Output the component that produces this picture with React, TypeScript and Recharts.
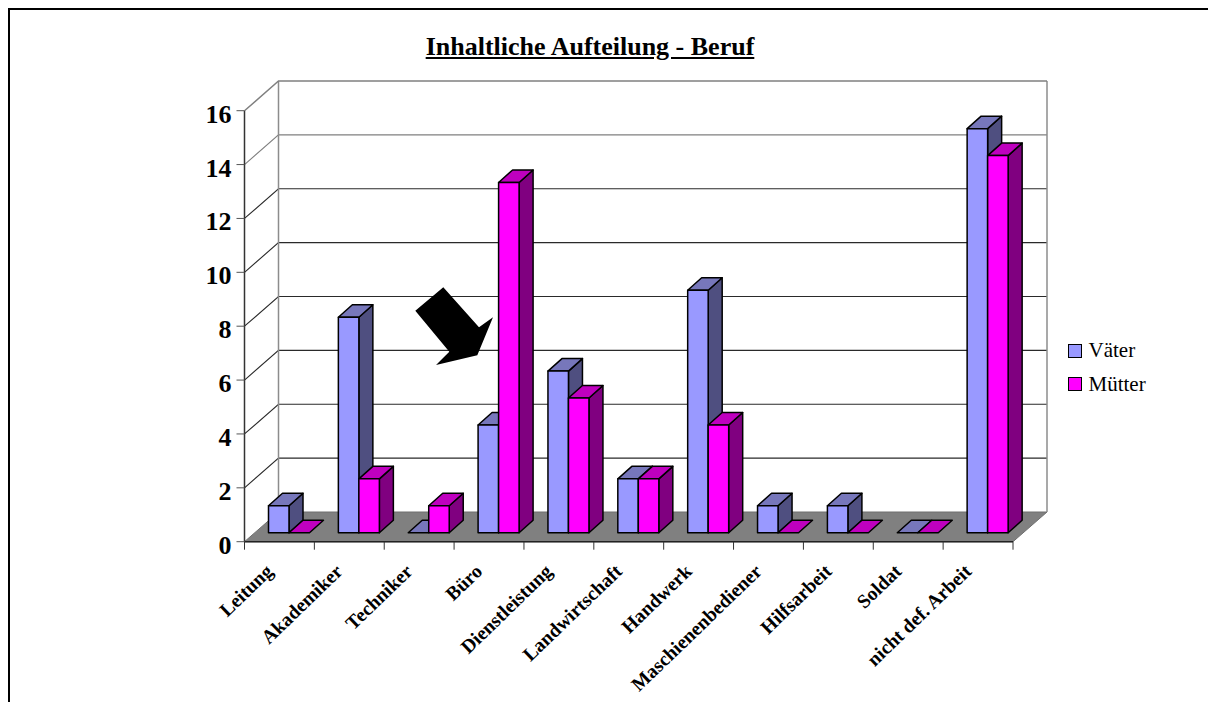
import { Bar, BarChart, CartesianGrid, Legend, XAxis, YAxis } from "recharts";

const categories = [
  "Leitung",
  "Akademiker",
  "Techniker",
  "Büro",
  "Dienstleistung",
  "Landwirtschaft",
  "Handwerk",
  "Maschienenbediener",
  "Hilfsarbeit",
  "Soldat",
  "nicht def. Arbeit",
];
const vaeter = [1, 8, 0, 4, 6, 2, 9, 1, 1, 0, 15];
const muetter = [0, 2, 1, 13, 5, 2, 4, 0, 0, 0, 14];
const yTicks = [0, 2, 4, 6, 8, 10, 12, 14, 16];

const data = categories.map((name, i) => ({ name, vaeter: vaeter[i], muetter: muetter[i] }));

const SERIF = '"Liberation Serif", "Times New Roman", serif';

// wall depth of the 3D box
const WALL_DX = 34;
const WALL_DY = -29.7;
// bars stand a little behind the front edge of the floor
const BAR_SHIFT_X = 10;
const BAR_SHIFT_Y = -9;
// depth of a single bar
const BAR_DX = 14;
const BAR_DY = -12.5;

const VAETER_COLORS = { front: "#9999ff", top: "#7777bb", side: "#4f4f80" };
const MUETTER_COLORS = { front: "#ff00ff", top: "#bf00bf", side: "#800080" };

function bar3d(colors: typeof VAETER_COLORS) {
  return function Bar3d(props: any) {
    const x = props.x + BAR_SHIFT_X;
    const y = props.y + BAR_SHIFT_Y;
    const w = props.width;
    const h = props.height;
    const edge = { stroke: "#000", strokeWidth: 1.5, strokeLinejoin: "round" as const };
    return (
      <g>
        {h > 0 && (
          <path
            d={`M${x + w},${y} L${x + w + BAR_DX},${y + BAR_DY} L${x + w + BAR_DX},${y + h + BAR_DY} L${x + w},${y + h} Z`}
            fill={colors.side}
            {...edge}
          />
        )}
        <path
          d={`M${x},${y} L${x + BAR_DX},${y + BAR_DY} L${x + w + BAR_DX},${y + BAR_DY} L${x + w},${y} Z`}
          fill={colors.top}
          {...edge}
        />
        {h > 0 && <rect x={x} y={y} width={w} height={h} fill={colors.front} {...edge} />}
      </g>
    );
  };
}

// one grid value: the slanted piece on the left wall and the line on the back wall
function wallLine(props: any) {
  const { x1, x2, y1, y, height, index } = props;
  const atFloor = y1 >= y + height - 0.5;
  const atTop = y1 <= y + 0.5;
  const color = y1 < y + 60 ? "#808080" : "#2a2a2a";
  return (
    <g key={`wall-${index}`}>
      {atTop && (
        <g stroke="#8c8c8c" strokeWidth={1.5}>
          <line x1={x1 + WALL_DX} y1={y1 + WALL_DY} x2={x1 + WALL_DX} y2={y1 + height + WALL_DY} />
          <line x1={x2 + WALL_DX} y1={y1 + WALL_DY} x2={x2 + WALL_DX} y2={y1 + height + WALL_DY} />
        </g>
      )}
      {atFloor ? (
        <polygon
          points={`${x1},${y1} ${x1 + WALL_DX},${y1 + WALL_DY} ${x2 + WALL_DX},${y1 + WALL_DY} ${x2},${y1}`}
          fill="#808080"
          stroke="#6e6e6e"
        />
      ) : (
        <path
          d={`M${x1},${y1} L${x1 + WALL_DX},${y1 + WALL_DY} L${x2 + WALL_DX},${y1 + WALL_DY}`}
          fill="none"
          stroke={color}
          strokeWidth={atTop ? 1.5 : 1.1}
        />
      )}
    </g>
  );
}

function CategoryTick(props: any) {
  const { x, y, payload, index } = props;
  const half = payload.offset ?? 0;
  const labelX = x - 5.5;
  const labelY = y + 23;
  return (
    <g>
      {index === 0 && <line x1={x - half} y1={y - 8} x2={x - half} y2={y} stroke="#333" />}
      <line x1={x + half} y1={y - 8} x2={x + half} y2={y} stroke="#333" />
      <text
        x={labelX}
        y={labelY}
        transform={`rotate(-44 ${labelX} ${labelY})`}
        textAnchor="end"
        fontFamily={SERIF}
        fontWeight="bold"
        fontSize={19.5}
        fill="#000"
      >
        {payload.value}
      </text>
    </g>
  );
}

function ValueTick(props: any) {
  const { x, y, payload } = props;
  return (
    <text x={x - 3} y={y + 12} textAnchor="end" fontFamily={SERIF} fontWeight="bold" fontSize={26} fill="#000">
      {payload.value}
    </text>
  );
}

function SwatchLegend() {
  const rows = [
    { label: "Väter", color: VAETER_COLORS.front },
    { label: "Mütter", color: MUETTER_COLORS.front },
  ];
  return (
    <div>
      {rows.map((r) => (
        <div key={r.label} style={{ display: "flex", alignItems: "center", height: 33.5 }}>
          <span
            style={{
              display: "inline-block",
              width: 12,
              height: 12,
              border: "1px solid #000",
              background: r.color,
              marginRight: 6.5,
            }}
          />
          <span style={{ fontFamily: SERIF, fontSize: 21, color: "#000" }}>{r.label}</span>
        </div>
      ))}
    </div>
  );
}

export default function App() {
  return (
    <div style={{ position: "absolute", left: 0, top: 0, width: 1208, height: 702, overflow: "hidden", background: "#fff" }}>
      <div
        style={{
          position: "absolute",
          left: 8,
          top: 8,
          width: 1210,
          height: 700,
          borderTop: "2px solid #000",
          borderLeft: "2px solid #000",
        }}
      />
      <div
        style={{
          position: "absolute",
          left: 0,
          width: 1180,
          top: 32,
          textAlign: "center",
          fontFamily: SERIF,
          fontWeight: "bold",
          fontSize: 26,
          textDecoration: "underline",
          color: "#000",
        }}
      >
        Inhaltliche Aufteilung - Beruf
      </div>
      <BarChart
        width={1208}
        height={702}
        data={data}
        barSize={20.5}
        barGap={0}
        margin={{ top: 110.7, right: 195, bottom: 60.3, left: 184.5 }}
        style={{ position: "absolute", left: 0, top: 0 }}
      >
        <CartesianGrid horizontal={wallLine} vertical={false} />
        <XAxis
          dataKey="name"
          interval={0}
          height={100}
          tickLine={false}
          tick={CategoryTick}
          axisLine={{ stroke: "#222", strokeWidth: 1.5 }}
        />
        <YAxis
          width={60}
          domain={[0, 16]}
          ticks={yTicks}
          tick={ValueTick}
          tickSize={8}
          tickLine={{ stroke: "#555" }}
          axisLine={{ stroke: "#333", strokeWidth: 1.5 }}
        />
        <Bar dataKey="vaeter" name="Väter" shape={bar3d(VAETER_COLORS)} isAnimationActive={false} />
        <Bar dataKey="muetter" name="Mütter" shape={bar3d(MUETTER_COLORS)} isAnimationActive={false} />
        <Legend
          layout="horizontal"
          verticalAlign="middle"
          content={SwatchLegend}
          wrapperStyle={{ left: 1068, top: 334, width: 120 }}
        />
      </BarChart>
      {/* arrow pointing at the office bars */}
      <svg width={1208} height={702} style={{ position: "absolute", left: 0, top: 0, pointerEvents: "none" }}>
        <polygon points="443.3,287.3 479,327.3 493,317.3 477.3,355.3 436,365 449.3,351.7 415.3,310.7" fill="#000" />
      </svg>
    </div>
  );
}
